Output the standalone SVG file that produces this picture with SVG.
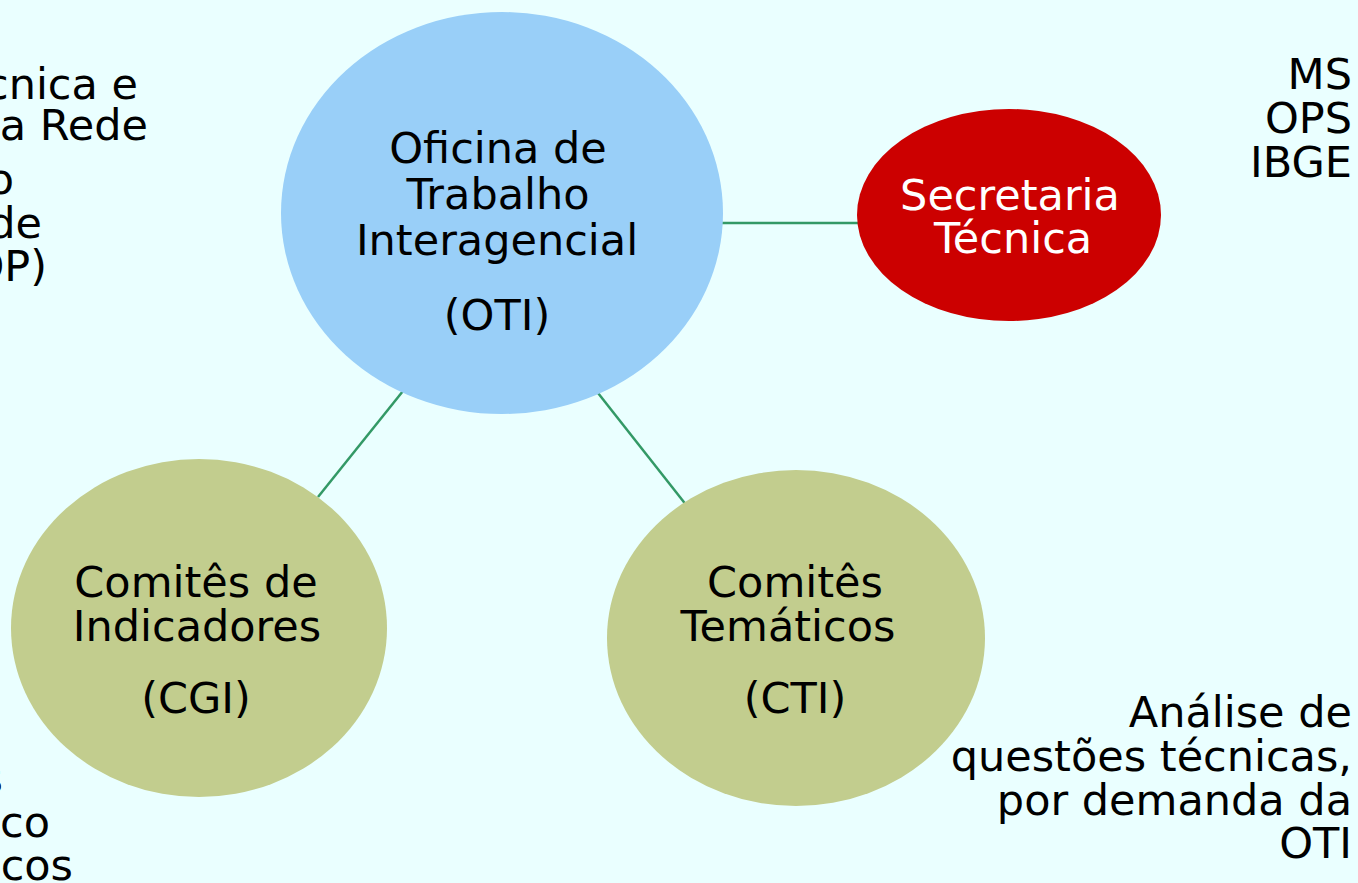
<svg xmlns="http://www.w3.org/2000/svg" width="1358" height="883" viewBox="0 0 1358 883">
<style>
text{font-family:"DejaVu Sans","Verdana",sans-serif;font-size:43px;fill:#000}
.c{text-anchor:middle}
.r{text-anchor:end}
.w{fill:#fff}
.conn line{stroke:#339966;stroke-width:2.5}
</style>
<rect width="1358" height="883" fill="#eaffff"/>
<g id="connectors" class="conn">
<line x1="722" y1="223" x2="860" y2="223"/>
<line x1="403" y1="391" x2="318" y2="497"/>
<line x1="598" y1="393" x2="687" y2="506"/>
</g>
<g id="oti">
<ellipse cx="502" cy="213" rx="221" ry="201" fill="#99cff8"/>
<text class="c" x="498" y="163">Oficina de</text>
<text class="c" x="498" y="209">Trabalho</text>
<text class="c" x="497" y="255">Interagencial</text>
<text class="c" x="497" y="330">(OTI)</text>
</g>
<g id="secretaria">
<ellipse cx="1009" cy="215" rx="152" ry="106" fill="#cc0000"/>
<text class="c w" x="1010" y="210">Secretaria</text>
<text class="c w" x="1013" y="253">Técnica</text>
</g>
<g id="cgi">
<ellipse cx="199" cy="628" rx="188" ry="169" fill="#c2cd8e"/>
<text class="c" x="196" y="597">Comitês de</text>
<text class="c" x="197" y="641">Indicadores</text>
<text class="c" x="196" y="713">(CGI)</text>
</g>
<g id="cti">
<ellipse cx="796" cy="638" rx="189" ry="168" fill="#c2cd8e"/>
<text class="c" x="795" y="597">Comitês</text>
<text class="c" x="788" y="641">Temáticos</text>
<text class="c" x="795" y="713">(CTI)</text>
</g>
<g id="members">
<text class="r" x="1352" y="89">MS</text>
<text class="r" x="1352" y="133">OPS</text>
<text class="r" x="1352" y="177">IBGE</text>
</g>
<g id="cti-note">
<text class="r" x="1352" y="727">Análise de</text>
<text class="r" x="1352" y="771">questões técnicas,</text>
<text class="r" x="1352" y="815">por demanda da</text>
<text class="r" x="1352" y="858">OTI</text>
</g>
<g id="left-top">
<text class="r" x="138" y="99">cnica e</text>
<text class="r" x="148" y="140">a Rede</text>
<text class="r" x="14" y="194">o</text>
<text class="r" x="42" y="238">de</text>
<text class="r" x="47" y="281">OP)</text>
</g>
<g id="left-bottom">
<text class="r" x="3" y="793">s</text>
<text class="r" x="50" y="837">sco</text>
<text class="r" x="73" y="880">icos</text>
</g>
</svg>
